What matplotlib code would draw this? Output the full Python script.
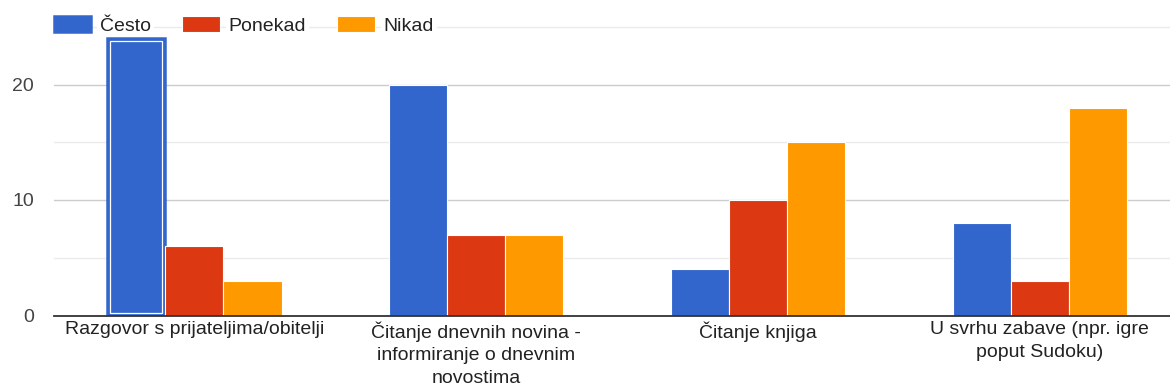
import numpy as np
import matplotlib
matplotlib.use("Agg")
import matplotlib.pyplot as plt
from matplotlib.patches import Rectangle

plt.rcParams["font.family"] = ["Liberation Sans", "DejaVu Sans"]

categories = [
    "Razgovor s prijateljima/obitelji",
    "Čitanje dnevnih novina -\ninformiranje o dnevnim\nnovostima",
    "Čitanje knjiga",
    "U svrhu zabave (npr. igre\npoput Sudoku)",
]
series_names = ["Često", "Ponekad", "Nikad"]
cesto = [24, 20, 4, 8]
ponekad = [6, 7, 10, 3]
nikad = [3, 7, 15, 18]
colors = ["#3366cc", "#dc3912", "#ff9900"]

W, H = 1170, 390
fig = plt.figure(figsize=(W / 100, H / 100), dpi=100)
# axes box in pixels: left 53.6, right 1180.6 (runs past the crop), y0 315.5, y25 26.75
ax = fig.add_axes([53.6 / W, 1 - 315.5 / H, 1127 / W, (315.5 - 26.75) / H])

x = np.arange(len(categories))
bw = 0.206
bars = []
for i, (vals, name, c) in enumerate(zip([cesto, ponekad, nikad], series_names, colors)):
    b = ax.bar(x + (i - 1) * bw, vals, width=bw, color=c, edgecolor="white",
               linewidth=0.8, label=name, zorder=3)
    bars.append(b)

ax.set_xlim(-0.5, len(categories) - 0.5)
ax.set_ylim(0, 25)

# selected bar highlight (first blue bar)
sel = bars[0][0]
sel.set_edgecolor(colors[0])
sel.set_linewidth(1.8)
p0 = ax.transData.transform((0, 0))
p1 = ax.transData.transform((1, 1))
dx = 3.0 / (p1[0] - p0[0])
dy = 3.0 / (p1[1] - p0[1])
ax.add_patch(Rectangle((sel.get_x() + dx, dy), sel.get_width() - 2 * dx,
                       cesto[0] - 2 * dy, fill=False, edgecolor="white",
                       linewidth=0.9, zorder=4))

# gridlines
for v in [10, 20]:
    ax.axhline(v, color="#cccccc", linewidth=1.0, zorder=1)
for v in [5, 15, 25]:
    ax.axhline(v, color="#ebebeb", linewidth=1.0, zorder=1, clip_on=False)

for s in ["top", "right", "left"]:
    ax.spines[s].set_visible(False)
ax.spines["bottom"].set_color("#333333")
ax.spines["bottom"].set_linewidth(1.3)
ax.spines["bottom"].set_zorder(5)

ax.set_yticks([0, 10, 20])
ax.set_xticks(x)
ax.set_xticklabels(categories)
ax.tick_params(axis="y", length=0, pad=14, labelsize=14, labelcolor="#444444")
ax.tick_params(axis="x", length=0, pad=4, labelsize=14, labelcolor="#222222")
for lbl in ax.get_xticklabels():
    lbl.set_linespacing(1.45)

leg = ax.legend(loc="center left", bbox_to_anchor=(0, 1.0 + 1.5 / (315.5 - 26.75)),
                ncol=3, frameon=False, fontsize=14, handlelength=1.93,
                handleheight=0.91, handletextpad=0.46, columnspacing=1.6,
                borderaxespad=0, borderpad=0)
for t in leg.get_texts():
    t.set_color("#222222")
    t.set_bbox(dict(facecolor="white", edgecolor="none", pad=2))

fig.savefig("out.png", dpi=100)
